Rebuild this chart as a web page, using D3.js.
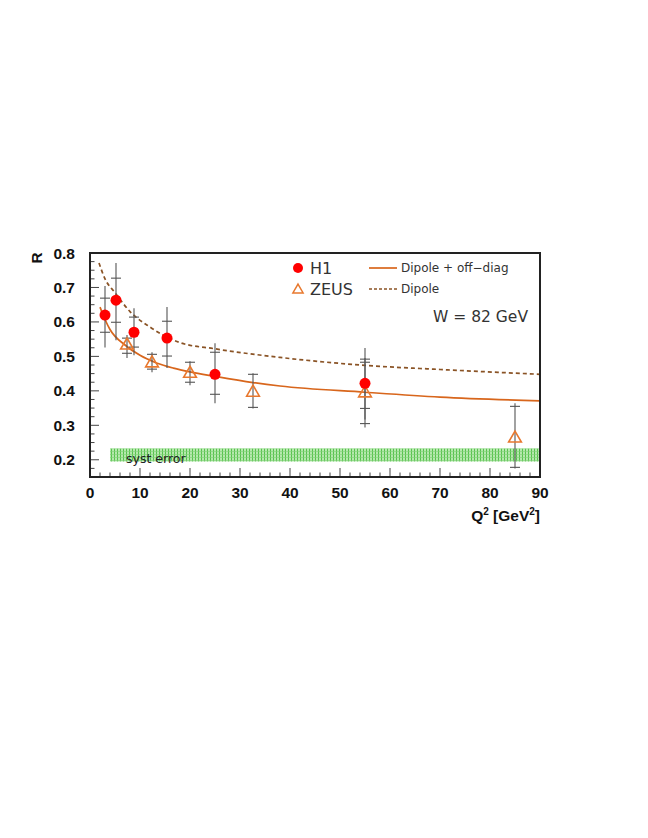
<!DOCTYPE html>
<html><head><meta charset="utf-8">
<script src="https://cdn.jsdelivr.net/npm/d3@7"></script>
<style>body{margin:0;background:#fff}svg{display:block}</style>
</head><body>
<svg id="c" width="648" height="838"></svg>
<script>
// ---- data ----
const xTicks = [0,10,20,30,40,50,60,70,80,90];
const yTicks = [0.2,0.3,0.4,0.5,0.6,0.7,0.8];
// H1: Q2, R, inner(stat) lo/hi, total lo/hi
const h1Q2   = [3, 5.2, 8.8, 15.4, 25, 55];
const h1R    = [0.62, 0.663, 0.57, 0.553, 0.448, 0.422];
const h1InLo = [0.570, 0.599, 0.527, 0.501, 0.390, 0.349];
const h1InHi = [0.669, 0.727, 0.614, 0.602, 0.512, 0.492];
const h1TotLo= [0.526, 0.547, 0.503, 0.466, 0.364, 0.317];
const h1TotHi= [0.704, 0.771, 0.640, 0.643, 0.538, 0.524];
// ZEUS
const zQ2    = [7.4, 12.4, 20, 32.6, 55, 85];
const zR     = [0.535, 0.483, 0.453, 0.398, 0.396, 0.265];
const zInLo  = [0.509, 0.463, 0.425, 0.352, 0.305, 0.178];
const zInHi  = [0.553, 0.506, 0.483, 0.448, 0.483, 0.355];
const zTotLo = [0.495, 0.454, 0.416, 0.349, 0.294, 0.175];
const zTotHi = [0.562, 0.512, 0.486, 0.451, 0.495, 0.364];
// curves
const offQ2 = [2, 3, 4, 7, 10, 13.3, 16.7, 20, 25, 32.6, 38, 55, 70, 90];
const offR  = [0.643, 0.607, 0.578, 0.533, 0.503, 0.481, 0.466, 0.455, 0.442, 0.424, 0.414, 0.396, 0.382, 0.371];
const dipQ2 = [1.8, 3, 5, 8, 12, 18, 25, 38, 55, 70, 90];
const dipR  = [0.771, 0.725, 0.685, 0.63, 0.585, 0.54, 0.522, 0.497, 0.474, 0.462, 0.448];
// systematic error band
const systQ2 = [4, 90];
const systR  = [0.195, 0.233];

// ---- layout ----
const L = 90, R = 540, T = 253, B = 477;
const x = d3.scaleLinear().domain([0, 90]).range([L, R]);
const y = d3.scaleLinear().domain([0.15, 0.8]).range([B, T]);
const svg = d3.select("#c");
const fontB = "'Liberation Sans', Arial, Helvetica, sans-serif";

// pattern for syst band
const defs = svg.append("defs");
const pat = defs.append("pattern").attr("id","hatch").attr("patternUnits","userSpaceOnUse")
  .attr("width",3).attr("height",3);
pat.append("rect").attr("width",3).attr("height",3).attr("fill","#b5e8ad");
pat.append("rect").attr("x",0).attr("width",1).attr("height",3).attr("fill","#58c24e");
pat.append("rect").attr("y",1).attr("width",3).attr("height",0.6).attr("fill","#7fd176");

svg.append("rect").attr("x", x(systQ2[0])).attr("width", x(systQ2[1]) - x(systQ2[0]))
  .attr("y", y(systR[1])).attr("height", y(systR[0]) - y(systR[1]))
  .attr("fill","url(#hatch)");
svg.append("text").attr("x", x(7.2)).attr("y", y(0.2) + 3).text("syst error")
  .attr("font-family", "'DejaVu Sans', sans-serif").attr("font-size", 12.5).attr("fill", "#222");

// axes ticks (inward)
const g = svg.append("g");
d3.range(0, 90.01, 2).forEach(v => {
  const major = Math.abs(v % 10) < 1e-6;
  g.append("line").attr("x1", x(v)).attr("x2", x(v)).attr("y1", B).attr("y2", B - (major ? 9 : 4.5))
    .attr("stroke", "#444").attr("stroke-width", 1);
});
d3.range(0.15, 0.8001, 0.025).forEach(v => {
  const major = Math.abs(Math.round(v * 10) - v * 10) < 1e-6;
  g.append("line").attr("y1", y(v)).attr("y2", y(v)).attr("x1", L).attr("x2", L + (major ? 9 : 4.5))
    .attr("stroke", "#444").attr("stroke-width", 1);
});
// tick labels
xTicks.forEach(v => {
  svg.append("text").attr("x", x(v)).attr("y", B + 21).attr("text-anchor", "middle")
    .attr("font-family", fontB).attr("font-weight", "bold").attr("font-size", 15.5).attr("fill","#111").text(v);
});
yTicks.forEach(v => {
  svg.append("text").attr("x", 75).attr("y", y(v) + 5.5).attr("text-anchor", "end")
    .attr("font-family", fontB).attr("font-weight", "bold").attr("font-size", 15.5).attr("fill","#111").text(v.toFixed(1));
});
// axis titles
const xt = svg.append("text").attr("x", 540).attr("y", 521).attr("text-anchor", "end")
  .attr("font-family", fontB).attr("font-weight", "bold").attr("font-size", 15.5).attr("fill","#111");
xt.append("tspan").text("Q");
xt.append("tspan").attr("dy", -6).attr("font-size", 10).text("2");
xt.append("tspan").attr("dy", 6).text(" [GeV");
xt.append("tspan").attr("dy", -6).attr("font-size", 10).text("2");
xt.append("tspan").attr("dy", 6).text("]");
svg.append("text").attr("transform", "translate(42,258) rotate(-90)").attr("text-anchor", "middle")
  .attr("font-family", fontB).attr("font-weight", "bold").attr("font-size", 15.5).attr("fill","#111").text("R");

// curves
const line = d3.line().x(d => x(d[0])).y(d => y(d[1])).curve(d3.curveMonotoneX);
svg.append("path").attr("d", line(offQ2.map((q, i) => [q, offR[i]])))
  .attr("fill", "none").attr("stroke", "#d8661c").attr("stroke-width", 1.7);
svg.append("path").attr("d", line(dipQ2.map((q, i) => [q, dipR[i]])))
  .attr("fill", "none").attr("stroke", "#8a5325").attr("stroke-width", 1.7).attr("stroke-dasharray", "4,3");

// error bars
function errs(q2, lo, hi, inLo, inHi) {
  q2.forEach((q, i) => {
    const cx = x(q);
    svg.append("line").attr("x1", cx).attr("x2", cx).attr("y1", y(lo[i])).attr("y2", y(hi[i]))
      .attr("stroke", "#555").attr("stroke-width", 1.1);
    [inLo[i], inHi[i]].forEach(v => {
      svg.append("line").attr("x1", cx - 5).attr("x2", cx + 5).attr("y1", y(v)).attr("y2", y(v))
        .attr("stroke", "#555").attr("stroke-width", 1.1);
    });
  });
}
errs(h1Q2, h1TotLo, h1TotHi, h1InLo, h1InHi);
errs(zQ2, zTotLo, zTotHi, zInLo, zInHi);

// markers
const tri = d3.symbol().type(d3.symbolTriangle).size(70);
zQ2.forEach((q, i) => {
  svg.append("path").attr("d", tri()).attr("transform", `translate(${x(q)},${y(zR[i]) + 1})`)
    .attr("fill", "none").attr("stroke", "#e8782e").attr("stroke-width", 1.6);
});
h1Q2.forEach((q, i) => {
  svg.append("circle").attr("cx", x(q)).attr("cy", y(h1R[i])).attr("r", 5.5).attr("fill", "#ff0000");
});

// frame
svg.append("rect").attr("x", L).attr("y", T).attr("width", R - L).attr("height", B - T)
  .attr("fill", "none").attr("stroke", "#222").attr("stroke-width", 2);

// legend
const fontL = "'DejaVu Sans', 'Liberation Sans', sans-serif";
svg.append("circle").attr("cx", 298).attr("cy", 268).attr("r", 5).attr("fill", "#ff0000");
svg.append("path").attr("d", d3.symbol().type(d3.symbolTriangle).size(45)())
  .attr("transform", "translate(298,290)").attr("fill", "none").attr("stroke", "#e8782e").attr("stroke-width", 1.5);
svg.append("text").attr("x", 310).attr("y", 274).text("H1").attr("font-family", fontL)
  .attr("font-size", 16).attr("fill", "#333");
svg.append("text").attr("x", 310).attr("y", 295).text("ZEUS").attr("font-family", fontL)
  .attr("font-size", 16).attr("fill", "#333");
svg.append("line").attr("x1", 369).attr("x2", 397).attr("y1", 268).attr("y2", 268)
  .attr("stroke", "#d8661c").attr("stroke-width", 1.7);
svg.append("line").attr("x1", 369).attr("x2", 397).attr("y1", 289).attr("y2", 289)
  .attr("stroke", "#8a5325").attr("stroke-width", 1.7).attr("stroke-dasharray", "3,2");
svg.append("text").attr("x", 401).attr("y", 272).text("Dipole + off\u2212diag").attr("font-family", fontL)
  .attr("font-size", 12).attr("fill", "#333");
svg.append("text").attr("x", 401).attr("y", 293).text("Dipole").attr("font-family", fontL)
  .attr("font-size", 12).attr("fill", "#333");
svg.append("text").attr("x", 528).attr("y", 322).attr("text-anchor", "end").text("W = 82 GeV")
  .attr("font-family", fontL).attr("font-size", 15.5).attr("fill", "#333");
</script>
</body></html>
